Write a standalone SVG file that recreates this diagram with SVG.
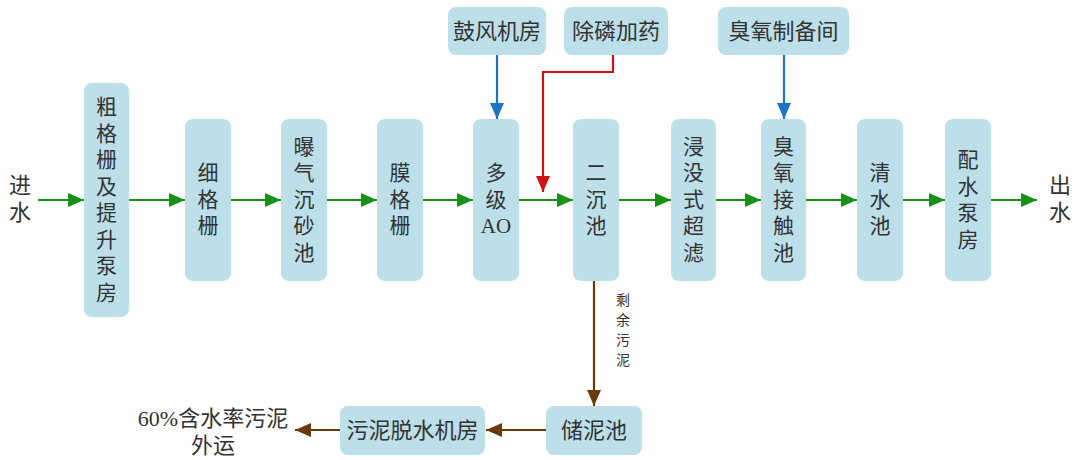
<svg xmlns="http://www.w3.org/2000/svg" width="1080" height="460" viewBox="0 0 1080 460">
<defs>
<style>
.box{fill:#bcdfea;}
.t{font-family:"Liberation Serif","Noto Sans CJK SC",serif;fill:#333;font-size:21px;text-anchor:middle;}
.h{font-size:22px;}
.s{font-size:14px;}
.g{stroke:#179017;stroke-width:2.2;fill:none;}
.b{stroke:#1a73c6;stroke-width:2.2;fill:none;}
.r{stroke:#cc1111;stroke-width:2.2;fill:none;}
.br{stroke:#6a3a0c;stroke-width:2.2;fill:none;}
</style>
<marker id="ag" markerUnits="userSpaceOnUse" markerWidth="18" markerHeight="14" refX="16" refY="7" orient="auto"><path d="M0,0 L16,7 L0,14 Z" fill="#179017"/></marker>
<marker id="ab" markerUnits="userSpaceOnUse" markerWidth="18" markerHeight="14" refX="16" refY="7" orient="auto"><path d="M0,0 L16,7 L0,14 Z" fill="#1a73c6"/></marker>
<marker id="ar" markerUnits="userSpaceOnUse" markerWidth="18" markerHeight="14" refX="16" refY="7" orient="auto"><path d="M0,0 L16,7 L0,14 Z" fill="#cc1111"/></marker>
<marker id="abr" markerUnits="userSpaceOnUse" markerWidth="18" markerHeight="14" refX="16" refY="7" orient="auto"><path d="M0,0 L16,7 L0,14 Z" fill="#6a3a0c"/></marker>
</defs>
<rect width="1080" height="460" fill="#fff"/>

<g id="connectors">
<line class="g" x1="38" y1="200" x2="84" y2="200" marker-end="url(#ag)"/>
<line class="g" x1="129" y1="200" x2="185" y2="200" marker-end="url(#ag)"/>
<line class="g" x1="231" y1="200" x2="281" y2="200" marker-end="url(#ag)"/>
<line class="g" x1="327" y1="200" x2="377" y2="200" marker-end="url(#ag)"/>
<line class="g" x1="423" y1="200" x2="473" y2="200" marker-end="url(#ag)"/>
<line class="g" x1="519" y1="200" x2="573" y2="200" marker-end="url(#ag)"/>
<line class="g" x1="619" y1="200" x2="671" y2="200" marker-end="url(#ag)"/>
<line class="g" x1="716" y1="200" x2="761" y2="200" marker-end="url(#ag)"/>
<line class="g" x1="806" y1="200" x2="857" y2="200" marker-end="url(#ag)"/>
<line class="g" x1="903" y1="200" x2="945" y2="200" marker-end="url(#ag)"/>
<line class="g" x1="991" y1="200" x2="1037" y2="200" marker-end="url(#ag)"/>
<line class="b" x1="497" y1="55" x2="497" y2="119" marker-end="url(#ab)"/>
<line class="b" x1="784" y1="55" x2="784" y2="119" marker-end="url(#ab)"/>
<path class="r" d="M613,55 V72 H543 V192" marker-end="url(#ar)"/>
<line class="br" x1="594" y1="281" x2="594" y2="406" marker-end="url(#abr)"/>
<line class="br" x1="546" y1="430" x2="486" y2="430" marker-end="url(#abr)"/>
<line class="br" x1="340" y1="430" x2="295" y2="430" marker-end="url(#abr)"/>
<text class="t s" x="623"><tspan x="623" y="305">剩</tspan><tspan x="623" y="325">余</tspan><tspan x="623" y="345">污</tspan><tspan x="623" y="365">泥</tspan></text>
</g>

<g id="in"><text class="t h"><tspan x="20" y="193">进</tspan><tspan x="20" y="220">水</tspan></text></g>
<g id="out"><text class="t h"><tspan x="1060" y="193">出</tspan><tspan x="1060" y="220">水</tspan></text></g>

<g id="n1"><rect class="box" x="84" y="83" width="45" height="234" rx="8"/>
<text class="t"><tspan x="106.5" y="114">粗</tspan><tspan x="106.5" y="140.5">格</tspan><tspan x="106.5" y="167">栅</tspan><tspan x="106.5" y="193.5">及</tspan><tspan x="106.5" y="220">提</tspan><tspan x="106.5" y="246.5">升</tspan><tspan x="106.5" y="273">泵</tspan><tspan x="106.5" y="299.5">房</tspan></text></g>

<g id="n2"><rect class="box" x="185" y="119" width="46" height="162" rx="8"/>
<text class="t"><tspan x="208" y="180">细</tspan><tspan x="208" y="206.5">格</tspan><tspan x="208" y="233">栅</tspan></text></g>

<g id="n3"><rect class="box" x="281" y="119" width="46" height="162" rx="8"/>
<text class="t"><tspan x="304" y="154">曝</tspan><tspan x="304" y="180">气</tspan><tspan x="304" y="206.5">沉</tspan><tspan x="304" y="233">砂</tspan><tspan x="304" y="259.5">池</tspan></text></g>

<g id="n4"><rect class="box" x="377" y="119" width="46" height="162" rx="8"/>
<text class="t"><tspan x="400" y="180">膜</tspan><tspan x="400" y="206.5">格</tspan><tspan x="400" y="233">栅</tspan></text></g>

<g id="n5"><rect class="box" x="473" y="119" width="46" height="162" rx="8"/>
<text class="t"><tspan x="496" y="180">多</tspan><tspan x="496" y="206.5">级</tspan><tspan x="496" y="233">AO</tspan></text></g>

<g id="n6"><rect class="box" x="573" y="119" width="46" height="162" rx="8"/>
<text class="t"><tspan x="596" y="180">二</tspan><tspan x="596" y="206.5">沉</tspan><tspan x="596" y="233">池</tspan></text></g>

<g id="n7"><rect class="box" x="671" y="119" width="45" height="162" rx="8"/>
<text class="t"><tspan x="693.5" y="154">浸</tspan><tspan x="693.5" y="180">没</tspan><tspan x="693.5" y="206.5">式</tspan><tspan x="693.5" y="233">超</tspan><tspan x="693.5" y="259.5">滤</tspan></text></g>

<g id="n8"><rect class="box" x="761" y="119" width="45" height="162" rx="8"/>
<text class="t"><tspan x="783.5" y="154">臭</tspan><tspan x="783.5" y="180">氧</tspan><tspan x="783.5" y="206.5">接</tspan><tspan x="783.5" y="233">触</tspan><tspan x="783.5" y="259.5">池</tspan></text></g>

<g id="n9"><rect class="box" x="857" y="119" width="46" height="162" rx="8"/>
<text class="t"><tspan x="880" y="180">清</tspan><tspan x="880" y="206.5">水</tspan><tspan x="880" y="233">池</tspan></text></g>

<g id="n10"><rect class="box" x="945" y="119" width="46" height="162" rx="8"/>
<text class="t"><tspan x="968" y="167">配</tspan><tspan x="968" y="193.5">水</tspan><tspan x="968" y="220">泵</tspan><tspan x="968" y="246.5">房</tspan></text></g>

<g id="top1"><rect class="box" x="448" y="7" width="98" height="48" rx="8"/><text class="t h" x="497" y="39">鼓风机房</text></g>
<g id="top2"><rect class="box" x="564" y="7" width="104" height="48" rx="8"/><text class="t h" x="616" y="39">除磷加药</text></g>
<g id="top3"><rect class="box" x="718" y="7" width="131" height="48" rx="8"/><text class="t h" x="783.5" y="39">臭氧制备间</text></g>

<g id="sludge1"><rect class="box" x="546" y="406" width="96" height="49" rx="8"/><text class="t h" x="594" y="438">储泥池</text></g>
<g id="sludge2"><rect class="box" x="340" y="406" width="145" height="49" rx="8"/><text class="t h" x="412.5" y="438">污泥脱水机房</text></g>
<g id="outsludge"><text class="t h"><tspan x="213" y="426">60%含水率污泥</tspan><tspan x="213" y="453">外运</tspan></text></g>
</svg>
